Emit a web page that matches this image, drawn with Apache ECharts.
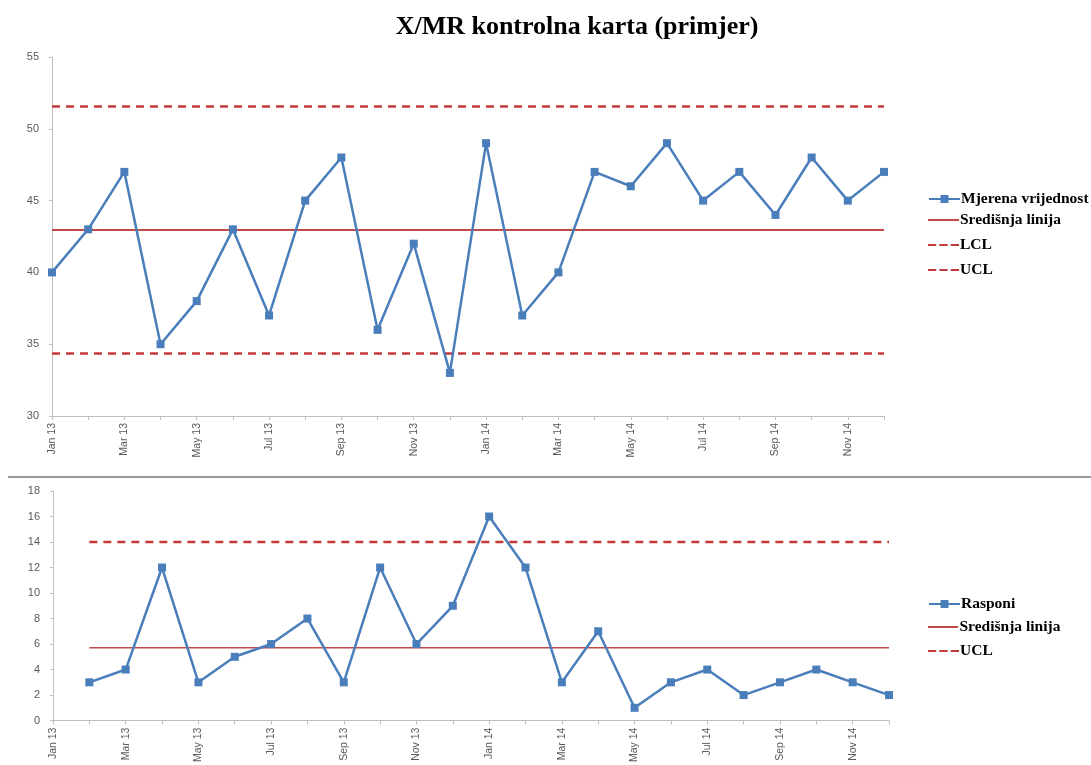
<!DOCTYPE html>
<html>
<head>
<meta charset="utf-8">
<script src="https://cdn.jsdelivr.net/npm/echarts@6/dist/echarts.min.js"></script>
<style>html,body{margin:0;padding:0;background:#fff}#c{width:1091px;height:765px}</style>
</head>
<body>
<div id="c"></div>
<script>
const months = ['Jan 13','Feb 13','Mar 13','Apr 13','May 13','Jun 13','Jul 13','Aug 13','Sep 13','Oct 13','Nov 13','Dec 13',
                'Jan 14','Feb 14','Mar 14','Apr 14','May 14','Jun 14','Jul 14','Aug 14','Sep 14','Oct 14','Nov 14','Dec 14'];
const measured = [40,43,47,35,38,43,37,45,48,36,42,33,49,37,40,47,46,49,45,47,44,48,45,47];
const ranges = [null,3,4,12,3,5,6,8,3,12,6,9,16,12,3,7,1,3,4,2,3,4,3,2];
const xCenter = 42.96, xLCL = 34.36, xUCL = 51.55;
const mrCenter = 5.7, mrUCL = 14;
const titleText = 'X/MR kontrolna karta (primjer)';

const constLine = (v, skipFirst) => months.map((m, i) => (skipFirst && i === 0) ? null : v);

const blue = '#4a7ebb', red = '#c4393a', redC = '#bf4a47';
const axisGray = '#bfbfbf', labelGray = '#595959';

function xAxisCfg(gi) {
  return {
    type: 'category', gridIndex: gi, data: months, boundaryGap: false,
    axisLine: { lineStyle: { color: axisGray, width: 1 } },
    axisTick: { show: true, interval: 0, length: 4, lineStyle: { color: axisGray } },
    axisLabel: { interval: 1, rotate: 90, color: labelGray, fontSize: 10.5, fontFamily: 'Liberation Sans', margin: 7 },
    splitLine: { show: false }
  };
}
function yAxisCfg(gi, min, max, interval) {
  return {
    type: 'value', gridIndex: gi, min, max, interval,
    axisLine: { show: true, lineStyle: { color: axisGray } },
    axisTick: { show: true, length: 3, lineStyle: { color: axisGray } },
    axisLabel: { color: labelGray, fontSize: 11, fontFamily: 'Liberation Sans', margin: 13 },
    splitLine: { show: false }
  };
}
const solidIcon = 'path://M0,0h30v2h-30z';
const dashIcon = 'path://M0,0h8v2h-8z M11,0h8v2h-8z M22,0h8v2h-8z';
const legText = { fontFamily: 'Liberation Serif', fontWeight: 'bold', fontSize: 15.5, color: '#000', padding: [0,0,0,-4] };
function leg(name, top, icon, h) {
  const item = icon ? { name, icon } : { name };
  return { data: [item], left: 928, top: top, orient: 'vertical', itemWidth: 31, itemHeight: h || 10,
           textStyle: legText, selectedMode: false, padding: 0 };
}

const chart = echarts.init(document.getElementById('c'), null, { renderer: 'canvas' });
chart.setOption({
  backgroundColor: '#fff',
  animation: false,
  graphic: [
    { type: 'text', x: 577, y: 27, style: { text: titleText, textAlign: 'center', textVerticalAlign: 'middle',
      font: 'bold 26px "Liberation Serif"', fill: '#000' } },
    { type: 'line', shape: { x1: 8, y1: 477, x2: 1091, y2: 477 }, style: { stroke: '#999', lineWidth: 2 } }
  ],
  grid: [
    { left: 52, right: 207, top: 57, height: 359 },
    { left: 53, right: 202, top: 491, height: 230 }
  ],
  xAxis: [xAxisCfg(0), xAxisCfg(1)],
  yAxis: [yAxisCfg(0, 30, 55, 5), yAxisCfg(1, 0, 18, 2)],
  legend: [
    leg('Mjerena vrijednost', 191), leg('Središnja linija', 212, solidIcon, 2.5),
    leg('LCL', 237, dashIcon, 2.5), leg('UCL', 262, dashIcon, 2.5),
    leg('Rasponi', 596), leg('Središnja linija ', 619, solidIcon, 2), leg('UCL ', 643, dashIcon, 2.5)
  ],
  series: [
    { name: 'Mjerena vrijednost', type: 'line', xAxisIndex: 0, yAxisIndex: 0, data: measured,
      symbol: 'rect', symbolSize: 8, color: blue, lineStyle: { color: blue, width: 2.5 }, itemStyle: { color: blue }, z: 5 },
    { name: 'Središnja linija', type: 'line', xAxisIndex: 0, yAxisIndex: 0, data: constLine(xCenter, false),
      symbol: 'none', color: redC, lineStyle: { color: redC, width: 2 } },
    { name: 'LCL', type: 'line', xAxisIndex: 0, yAxisIndex: 0, data: constLine(xLCL, false),
      symbol: 'none', color: red, lineStyle: { color: red, width: 2.5, type: [8, 6] } },
    { name: 'UCL', type: 'line', xAxisIndex: 0, yAxisIndex: 0, data: constLine(xUCL, false),
      symbol: 'none', color: red, lineStyle: { color: red, width: 2.5, type: [8, 6] } },
    { name: 'Rasponi', type: 'line', xAxisIndex: 1, yAxisIndex: 1, data: ranges,
      symbol: 'rect', symbolSize: 8, color: blue, lineStyle: { color: blue, width: 2.5 }, itemStyle: { color: blue }, z: 5 },
    { name: 'Središnja linija ', type: 'line', xAxisIndex: 1, yAxisIndex: 1, data: constLine(mrCenter, true),
      symbol: 'none', color: redC, lineStyle: { color: redC, width: 1.5 } },
    { name: 'UCL ', type: 'line', xAxisIndex: 1, yAxisIndex: 1, data: constLine(mrUCL, true),
      symbol: 'none', color: red, lineStyle: { color: red, width: 2.5, type: [8, 6] } }
  ]
});
</script>
</body>
</html>
